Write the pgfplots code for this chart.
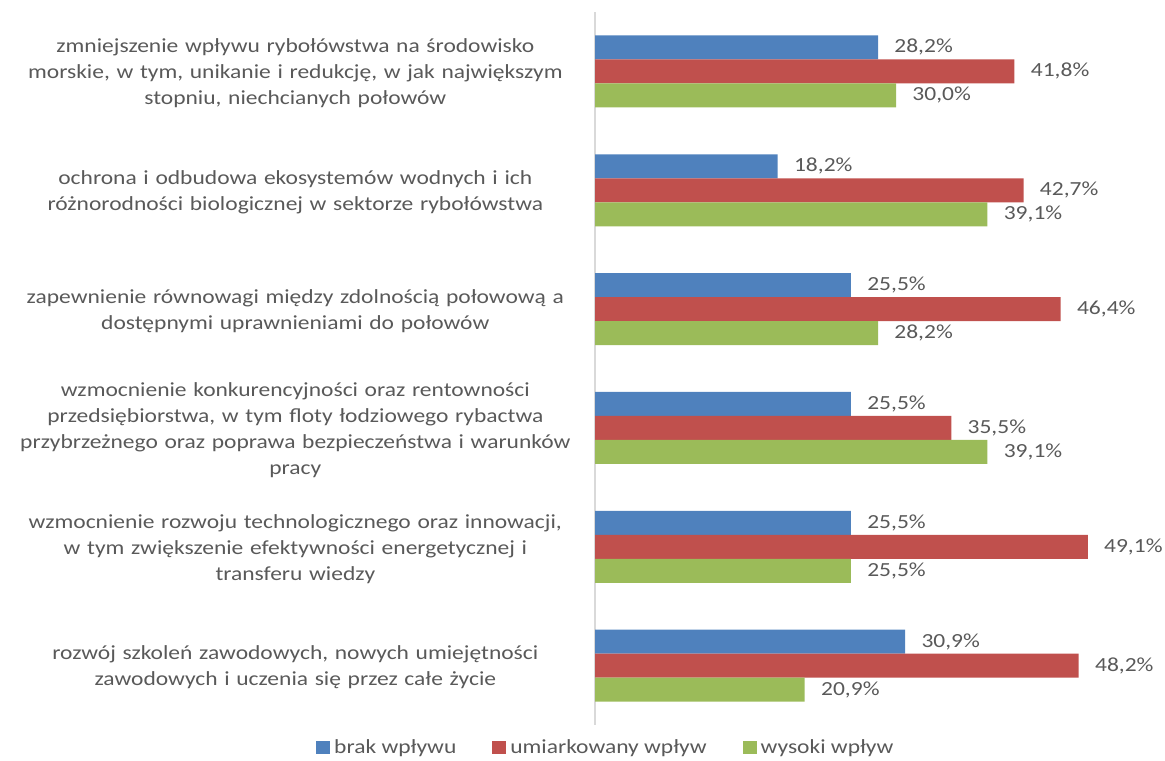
\documentclass[border=0pt]{standalone}
\usepackage{pgfplots}
\pgfplotsset{compat=1.18}
\usepackage{fontspec}
\setmainfont{Carlito}[FakeStretch=1.175]
\definecolor{cblue}{HTML}{4F81BD}
\definecolor{cred}{HTML}{C0504D}
\definecolor{cgreen}{HTML}{9BBB59}
\definecolor{ctext}{HTML}{595959}
\definecolor{caxis}{HTML}{D9D9D9}
\begin{document}
\begin{tikzpicture}
\path[use as bounding box] (0,0) rectangle (582.5pt,380pt);
\begin{axis}[
  at={(297.5pt,17.5pt)}, anchor=south west,
  scale only axis, width=282.5pt, height=356.5pt,
  xbar, bar width=12pt,
  xmin=0, xmax=56.3,
  ymin=-0.5, ymax=5.5, y dir=reverse,
  axis x line=none, axis y line=left,
  y axis line style={-, draw=caxis, line width=1pt},
  ytick={0,1,2,3,4,5}, ytick style={draw=none},
  yticklabels={
    {zmniejszenie wpływu rybołówstwa na środowisko\\morskie, w tym, unikanie i redukcję, w jak największym\\stopniu, niechcianych połowów},
    {ochrona i odbudowa ekosystemów wodnych i ich\\różnorodności biologicznej w sektorze rybołówstwa},
    {zapewnienie równowagi między zdolnością połowową a\\dostępnymi uprawnieniami do połowów},
    {wzmocnienie konkurencyjności oraz rentowności\\przedsiębiorstwa, w tym floty łodziowego rybactwa\\przybrzeżnego oraz poprawa bezpieczeństwa i warunków\\pracy},
    {wzmocnienie rozwoju technologicznego oraz innowacji,\\w tym zwiększenie efektywności energetycznej i\\transferu wiedzy},
    {rozwój szkoleń zawodowych, nowych umiejętności\\zawodowych i uczenia się przez całe życie}},
  yticklabel style={text width=290pt, align=center, inner sep=0pt, xshift=-2.5pt, yshift=-1pt,
    font=\fontsize{10}{13}\selectfont, text=ctext},
  point meta=x,
  nodes near coords={\pgfmathprintnumber[fixed,fixed zerofill,precision=1,use comma,assume math mode=true]{\pgfplotspointmeta}\%},
  every node near coord/.append style={anchor=west, inner sep=0pt, xshift=8pt,
    font=\fontsize{10}{12}\selectfont, text=ctext},
  legend columns=3,
  legend style={at={(axis description cs:0.021,-0.032)}, anchor=center, draw=none,
    font=\fontsize{10}{12}\selectfont, text=ctext,
    /tikz/every even column/.append style={column sep=16pt}},
  legend image code/.code={\fill[#1] (0pt,-3.25pt) rectangle (7pt,3.25pt);},
]
\addplot[draw=none, fill=cblue, bar shift=12pt] coordinates {(28.2,0) (18.2,1) (25.5,2) (25.5,3) (25.5,4) (30.9,5)};
\addplot[draw=none, fill=cred, bar shift=0pt] coordinates {(41.8,0) (42.7,1) (46.4,2) (35.5,3) (49.1,4) (48.2,5)};
\addplot[draw=none, fill=cgreen, bar shift=-12pt] coordinates {(30.0,0) (39.1,1) (28.2,2) (39.1,3) (25.5,4) (20.9,5)};
\legend{brak wpływu, umiarkowany wpływ, wysoki wpływ}
\end{axis}
\end{tikzpicture}
\end{document}
